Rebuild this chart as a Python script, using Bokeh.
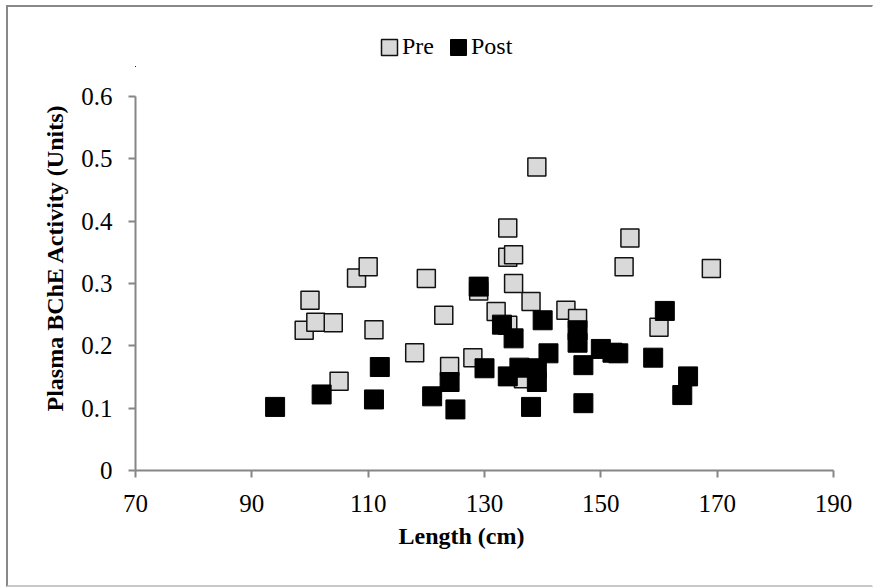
from bokeh.plotting import figure
from bokeh.models import (Range1d, FixedTicker, Legend, LegendItem, Title, Column, ColumnDataSource)
from bokeh.embed import file_html
from bokeh.resources import INLINE

# ---- data ----
pre_length = [99, 100, 101, 104, 105, 108, 110, 111, 118, 120, 123, 124, 128, 129, 132,
              134, 134, 134, 135, 135, 136.7, 138, 139, 144, 146, 154, 155, 160, 169]
pre_bche = [0.225, 0.273, 0.238, 0.237, 0.143, 0.309, 0.327, 0.226, 0.189, 0.308, 0.249, 0.167, 0.181, 0.288, 0.255,
            0.389, 0.342, 0.233, 0.346, 0.300, 0.147, 0.271, 0.487, 0.257, 0.244, 0.327, 0.373, 0.230, 0.324]

post_length = [94, 102, 111, 112, 121, 124, 125, 129, 130, 133, 134, 135, 136, 138, 139,
               139, 140, 141, 146, 146, 147, 147, 150, 152, 153, 159, 161, 164, 165]
post_bche = [0.102, 0.122, 0.114, 0.166, 0.119, 0.142, 0.098, 0.295, 0.164, 0.234, 0.151, 0.212, 0.165, 0.102, 0.164,
             0.142, 0.241, 0.188, 0.225, 0.205, 0.169, 0.108, 0.195, 0.189, 0.188, 0.181, 0.256, 0.121, 0.151]

x_ticks = [70, 90, 110, 130, 150, 170, 190]
y_ticks = [0, 0.1, 0.2, 0.3, 0.4, 0.5, 0.6]
y_tick_labels = ["0", "0.1", "0.2", "0.3", "0.4", "0.5", "0.6"]
series_names = ["Pre", "Post"]
x_title = "Length (cm)"
y_title = "Plasma BChE Activity (Units)"

FONT = "Liberation Serif"
AXIS_GRAY = "#868686"
PRE_FILL = "#d9d9d9"
PRE_LINE = "#111111"

src_pre = ColumnDataSource(dict(x=pre_length, y=pre_bche))
src_post = ColumnDataSource(dict(x=post_length, y=post_bche))

# ---------------- legend strip ----------------
# The strip's ranges lie far from the data and the blocks have no extent,
# so its renderers only provide the legend swatches.
lf = figure(width=864, height=60, output_backend="svg", toolbar_location=None,
            x_axis_location=None, y_axis_location=None,
            min_border_left=127, min_border_right=39, min_border_top=0, min_border_bottom=0,
            x_range=Range1d(5000, 5001), y_range=Range1d(5000, 5001))
lf.outline_line_color = None
lf.xgrid.visible = False
lf.ygrid.visible = False
lg_pre = lf.block(x="x", y="y", width=0, height=0, source=src_pre,
                  fill_color=PRE_FILL, line_color=PRE_LINE, line_width=1.5)
lg_post = lf.block(x="x", y="y", width=0, height=0, source=src_post,
                   fill_color="black", line_color="black", line_width=1)
legend = Legend(items=[LegendItem(label=series_names[0], renderers=[lg_pre]),
                       LegendItem(label=series_names[1], renderers=[lg_post])],
                orientation="horizontal", location=(244, 7),
                glyph_width=20, glyph_height=20, label_standoff=3, spacing=14,
                padding=0, margin=0, border_line_color=None, background_fill_alpha=0,
                label_text_font=FONT, label_text_font_size="24px", label_text_color="black")
lf.add_layout(legend)

# ---------------- main plot ----------------
p = figure(width=864, height=518, output_backend="svg", toolbar_location=None,
           x_range=Range1d(70, 190), y_range=Range1d(0, 0.6),
           min_border_left=127, min_border_right=39, min_border_top=29, min_border_bottom=115)
p.outline_line_color = None
p.xgrid.visible = False
p.ygrid.visible = False

for ax in (p.xaxis, p.yaxis):
    ax.axis_line_color = AXIS_GRAY
    ax.axis_line_width = 2
    ax.major_tick_line_color = AXIS_GRAY
    ax.major_tick_line_width = 2
    ax.major_tick_in = 0
    ax.major_tick_out = 7
    ax.minor_tick_line_color = None
    ax.major_label_text_font = FONT
    ax.major_label_text_font_size = "25px"
    ax.major_label_text_color = "black"

p.xaxis.ticker = FixedTicker(ticks=x_ticks)
p.yaxis.ticker = FixedTicker(ticks=y_ticks)
p.yaxis.major_label_overrides = {t: l for t, l in zip(y_ticks, y_tick_labels)}
p.xaxis.major_label_standoff = 17
p.yaxis.major_label_standoff = 16

p.scatter("x", "y", source=src_pre, marker="square", size=18,
          fill_color=PRE_FILL, line_color=PRE_LINE, line_width=1.5)
p.scatter("x", "y", source=src_post, marker="square", size=19,
          fill_color="black", line_color="black", line_width=1)

p.add_layout(Title(text=x_title, align="left", offset=263, standoff=12,
                   text_font=FONT, text_font_size="24px", text_font_style="bold",
                   text_color="black"), "below")
p.add_layout(Title(text=y_title, align="left", offset=59, standoff=21,
                   text_font=FONT, text_font_size="24px", text_font_style="bold",
                   text_color="black"), "left")

layout = Column(lf, p, spacing=0, margin=(5, 0, 0, 6),
                styles={"border-top": "2px solid #888888", "border-left": "2px solid #888888",
                        "border-bottom": "2px solid #c8c8c8", "border-right": "1px solid #ffffff"})

open("out.html", "w").write(file_html(layout, INLINE))
